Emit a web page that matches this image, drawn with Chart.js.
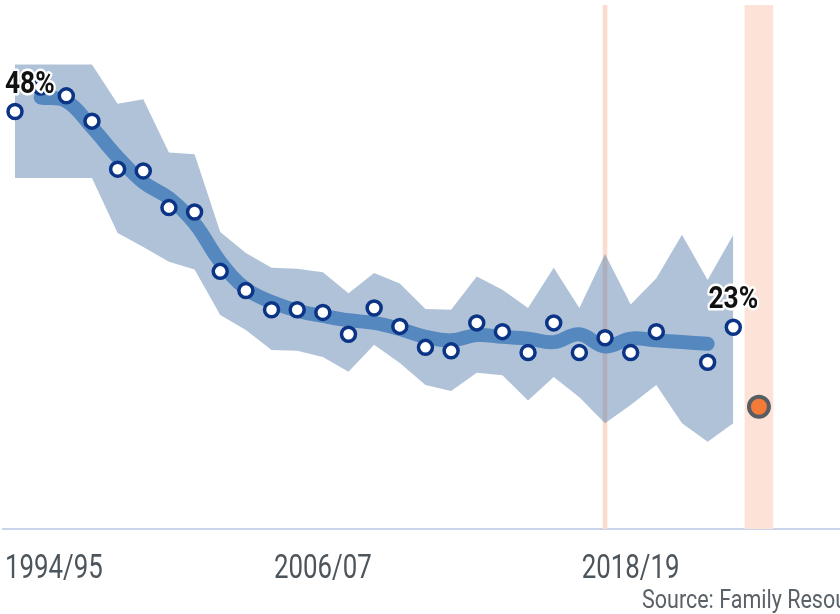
<!DOCTYPE html>
<html>
<head>
<meta charset="utf-8">
<script src="https://cdn.jsdelivr.net/npm/chart.js@4/dist/chart.umd.min.js"></script>
<style>
html,body{margin:0;padding:0;background:#fff;overflow:hidden;}
canvas{display:block;}
</style>
</head>
<body>
<canvas id="c" width="840" height="614"></canvas>
<script>
// ---------- data ----------
const categories = ['1994/95','1995/96','1996/97','1997/98','1998/99','1999/00','2000/01','2001/02','2002/03','2003/04',
  '2004/05','2005/06','2006/07','2007/08','2008/09','2009/10','2010/11','2011/12','2012/13','2013/14',
  '2014/15','2015/16','2016/17','2017/18','2018/19','2019/20','2020/21','2021/22','2022/23','2023/24'];
const tickLabels = ['1994/95','2006/07','2018/19'];
const annualValues = [47.8, 50.6, 49.6, 46.7, 41.2, 41.0, 36.8, 36.3, 29.5, 27.3, 25.1, 25.1, 24.8, 22.3, 25.3,
  23.2, 20.8, 20.4, 23.6, 22.6, 20.2, 23.6, 20.2, 21.9, 20.2, 22.6, null, 19.1, 23.1];
const rollingValues = [null, 49.4, 49.0, 46.0, 42.6, 39.7, 37.9, 35.0, 30.6, 27.5, 26.0, 25.0, 24.4, 23.9, 23.6,
  22.9, 22.0, 21.6, 22.2, 22.0, 21.8, 21.4, 22.3, 20.9, 21.8, 21.6, 21.4, 21.2];
const bandUpper = [53.2, 53.2, 53.2, 53.2, 48.7, 49.2, 43.1, 42.9, 34.0, 31.6, 29.9, 29.8, 29.4, 27.0, 29.3,
  28.1, 25.2, 25.1, 28.9, 27.4, 25.3, 29.9, 25.3, 31.5, 25.7, 28.7, 33.7, 28.5, 33.7];
const bandLower = [40.2, 40.2, 40.2, 40.2, 33.9, 32.3, 30.6, 29.7, 24.5, 22.8, 20.5, 20.4, 19.7, 18.0, 21.1,
  19.0, 16.5, 15.8, 17.9, 17.6, 14.7, 17.4, 15.1, 12.1, 14.2, 16.5, 12.1, 10.0, 12.1];
const projectionCategory = '2023/24';
const projectionValue = 14.0;
const markerCategory = '2017/18';
const labelledCategories = ['1994/95','2022/23'];
const sourceText = 'Source: Family Resources Survey';
const yMax = 60;

// ---------- build ----------
const toXY = arr => arr.map((v, i) => ({x: i, y: v}));
const projIdx = categories.indexOf(projectionCategory);
const markIdx = categories.indexOf(markerCategory);

function condensedText(ctx, text, x, y, sx, align) {
  const w = ctx.measureText(text).width * sx;
  let left = x;
  if (align === 'center') left = x - w / 2;
  else if (align === 'right') left = x - w;
  ctx.save();
  ctx.translate(left, y);
  ctx.scale(sx, 1);
  ctx.textAlign = 'left';
  ctx.fillText(text, 0, 0);
  ctx.restore();
  return {left, w};
}
function condensedWidth(ctx, text, sx) { return ctx.measureText(text).width * sx; }

const textPlugin = {
  id: 'texts',
  afterDatasetsDraw(chart) {
    const ctx = chart.ctx;
    const xs = chart.scales.x, ys = chart.scales.y;
    ctx.save();
    ctx.font = 'bold 31px Roboto';
    ctx.textBaseline = 'alphabetic';
    labelledCategories.forEach(cat => {
      const i = categories.indexOf(cat);
      const v = annualValues[i];
      const t = Math.round(v) + '%';
      const sx = 0.85;
      const w = condensedWidth(ctx, t, sx);
      let cx = xs.getPixelForValue(i);
      cx = Math.max(cx, 5 + w / 2);
      const cy = ys.getPixelForValue(v) - 19;
      ctx.save();
      ctx.translate(cx - w / 2, cy);
      ctx.scale(sx, 1);
      ctx.lineJoin = 'round';
      ctx.lineWidth = 5;
      ctx.strokeStyle = '#ffffff';
      ctx.strokeText(t, 0, 0);
      ctx.fillStyle = '#111111';
      ctx.fillText(t, 0, 0);
      ctx.restore();
    });
    ctx.restore();
  },
  afterDraw(chart) {
    const ctx = chart.ctx;
    const xs = chart.scales.x;
    const area = chart.chartArea;
    ctx.save();
    ctx.font = '34px Roboto';
    ctx.fillStyle = '#4d555c';
    ctx.textBaseline = 'alphabetic';
    const sx = 0.76;
    tickLabels.forEach(lbl => {
      const i = categories.indexOf(lbl);
      const w = condensedWidth(ctx, lbl, sx);
      let cx = xs.getPixelForValue(i);
      cx = Math.max(cx, 5 + w / 2);
      condensedText(ctx, lbl, cx, area.bottom + 49, sx, 'center');
    });
    ctx.font = '25px Roboto';
    ctx.fillStyle = '#5a6268';
    condensedText(ctx, sourceText, 642, area.bottom + 79, 0.86, 'left');
    ctx.restore();
  }
};

new Chart(document.getElementById('c'), {
  data: {
    datasets: [
      {
        type: 'bar',
        data: [{x: markIdx, y: yMax}],
        backgroundColor: '#fbdccf',
        barThickness: 4,
        stack: 'bg',
        order: 10
      },
      {
        type: 'bar',
        data: [{x: projIdx, y: yMax}],
        backgroundColor: '#fce2d7',
        barThickness: 28,
        stack: 'bg',
        order: 10
      },
      {
        type: 'line',
        data: toXY(bandUpper),
        borderWidth: 0,
        pointRadius: 0,
        tension: 0,
        fill: '+1',
        backgroundColor: 'rgba(80,120,168,0.45)',
        order: 5
      },
      {
        type: 'line',
        data: toXY(bandLower),
        borderWidth: 0,
        pointRadius: 0,
        tension: 0,
        fill: false,
        order: 6
      },
      {
        type: 'line',
        data: toXY(rollingValues),
        borderColor: '#5588bf',
        borderWidth: 14,
        borderCapStyle: 'round',
        borderJoinStyle: 'round',
        pointRadius: 0,
        tension: 0.4,
        fill: false,
        spanGaps: false,
        order: 3
      },
      {
        type: 'line',
        data: toXY(annualValues),
        showLine: false,
        pointRadius: 7,
        pointBorderWidth: 3.5,
        pointBackgroundColor: '#ffffff',
        pointBorderColor: '#0b3486',
        order: 1
      },
      {
        type: 'line',
        data: [{x: projIdx, y: projectionValue}],
        showLine: false,
        pointRadius: 10,
        pointBorderWidth: 4,
        pointBackgroundColor: '#f47a38',
        pointBorderColor: '#565e64',
        order: 0
      }
    ]
  },
  options: {
    responsive: false,
    animation: false,
    devicePixelRatio: 1,
    layout: {autoPadding: false, padding: {left: 3, right: 0, top: 5, bottom: 85}},
    plugins: {legend: {display: false}, tooltip: {enabled: false}},
    scales: {
      x: {
        type: 'linear',
        offset: false,
        min: -0.468,
        max: 32.16,
        grid: {display: false, drawTicks: false, offset: false},
        border: {display: true, color: '#c8d5ea', width: 2},
        ticks: {display: false}
      },
      y: {
        min: 0,
        max: yMax,
        display: false
      }
    }
  },
  plugins: [textPlugin]
});
</script>
</body>
</html>
